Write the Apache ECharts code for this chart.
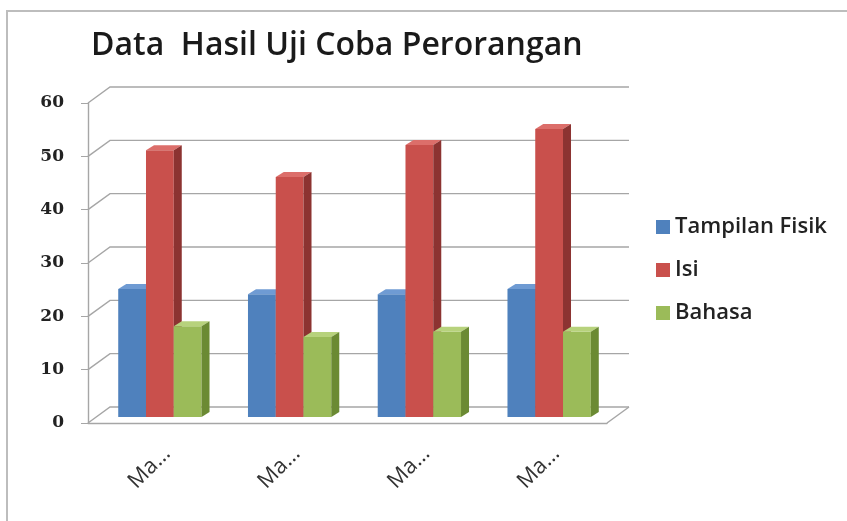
<!DOCTYPE html>
<html>
<head>
<meta charset="utf-8">
<script src="https://cdn.jsdelivr.net/npm/echarts@6/dist/echarts.min.js"></script>
<style>html,body{margin:0;padding:0;background:#fff}#c{width:847px;height:521px}</style>
</head>
<body>
<div id="c"></div>
<script>
const categories = ['Ma...', 'Ma...', 'Ma...', 'Ma...'];
const seriesNames = ['Tampilan Fisik', 'Isi', 'Bahasa'];
const tampilanFisik = [24, 23, 23, 24];
const isi = [50, 45, 51, 54];
const bahasa = [17, 15, 16, 16];
const yTicks = [0, 10, 20, 30, 40, 50, 60];

const palettes = [
  {front: '#4F81BD', top: '#6f9bd3', side: '#375f92'},
  {front: '#C9504C', top: '#dc6e6a', side: '#8c3331'},
  {front: '#9BBB59', top: '#b7d27c', side: '#6b8a33'}
];
const WALL_DX = 22, WALL_DY = -16;
const BAR_DX = 7, BAR_DY = -6;
const DEPTH_X = 8, DEPTH_Y = -5;

function barRender(k) {
  return function (params, api) {
    const idx = api.value(0), v = api.value(1);
    const top = api.coord([idx, v]);
    const base = api.coord([idx, 0]);
    const band = api.size([1, 0])[0];
    const bw = band * 0.214;
    const x0 = top[0] + (k - 1) * bw - bw / 2 + BAR_DX;
    const x1 = x0 + bw;
    const yt = top[1] + BAR_DY;
    const yb = base[1] + BAR_DY;
    const p = palettes[k];
    return {
      type: 'group',
      children: [
        {type: 'rect', shape: {x: x0, y: yt, width: bw, height: yb - yt}, style: {fill: p.front}},
        {type: 'polygon', shape: {points: [[x0, yt], [x1, yt], [x1 + DEPTH_X, yt + DEPTH_Y], [x0 + DEPTH_X, yt + DEPTH_Y]]}, style: {fill: p.top}},
        {type: 'polygon', shape: {points: [[x1, yt], [x1 + DEPTH_X, yt + DEPTH_Y], [x1 + DEPTH_X, yb + DEPTH_Y], [x1, yb]]}, style: {fill: p.side}}
      ]
    };
  };
}

function gridRender(params, api) {
  const v = api.value(1);
  const first = api.coord([0, v]);
  const last = api.coord([categories.length - 1, v]);
  const band = api.size([1, 0])[0];
  const lx = first[0] - band / 2, rx = last[0] + band / 2, y = first[1];
  const children = [{
    type: 'polyline',
    shape: {points: [[lx, y], [lx + WALL_DX, y + WALL_DY], [rx + WALL_DX, y + WALL_DY]]},
    style: {stroke: '#a6a6a6', lineWidth: 1.4, fill: null}
  }];
  if (v === 0) {
    children.push({
      type: 'line',
      shape: {x1: rx, y1: y, x2: rx + WALL_DX, y2: y + WALL_DY},
      style: {stroke: '#a6a6a6', lineWidth: 1.4}
    });
  }
  return {type: 'group', children: children};
}

const valueSets = [tampilanFisik, isi, bahasa];
const series = [{
  type: 'custom',
  name: '_grid',
  silent: true,
  z: 1,
  renderItem: gridRender,
  data: yTicks.map(v => [0, v]),
  encode: {x: 0, y: 1}
}];
valueSets.forEach((vals, k) => {
  series.push({
    type: 'custom',
    name: seriesNames[k],
    z: 3 + k,
    itemStyle: {color: palettes[k].front},
    renderItem: barRender(k),
    data: vals.map((v, i) => [i, v]),
    encode: {x: 0, y: 1}
  });
});

const chart = echarts.init(document.getElementById('c'));
chart.setOption({
  backgroundColor: '#ffffff',
  animation: false,
  graphic: [{
    type: 'rect', shape: {x: 7, y: 11, width: 860, height: 540},
    style: {fill: null, stroke: '#bdbdbd', lineWidth: 2}, z: 0
  }],
  title: {
    text: 'Data  Hasil Uji Coba Perorangan',
    left: 86, top: 25,
    textStyle: {fontFamily: 'Open Sans', fontSize: 32, fontWeight: 600, color: '#1a1a1a'}
  },
  legend: {
    data: seriesNames,
    orient: 'vertical',
    left: 651, top: 211,
    icon: 'rect',
    itemWidth: 14, itemHeight: 14, itemGap: 21,
    textStyle: {fontFamily: 'Open Sans', fontSize: 22, fontWeight: 600, color: '#222'}
  },
  grid: {left: 88, right: 240, top: 103, bottom: 98},
  xAxis: {
    type: 'category',
    data: categories,
    axisLine: {lineStyle: {color: '#a6a6a6', width: 1.4}},
    axisTick: {length: 8, lineStyle: {color: '#a6a6a6', width: 1.4}},
    axisLabel: {interval: 0, rotate: 45, margin: 13, verticalAlign: 'top', lineHeight: 40,
      fontFamily: 'Open Sans', fontSize: 22, color: '#333'}
  },
  yAxis: {
    type: 'value', min: 0, max: 60, interval: 10,
    axisLine: {show: true, lineStyle: {color: '#a6a6a6', width: 1.4}},
    axisTick: {show: true, length: 7, lineStyle: {color: '#a6a6a6'}},
    splitLine: {show: false},
    axisLabel: {margin: 24, fontFamily: 'DejaVu Serif', fontSize: 17, fontWeight: 700, color: '#222'}
  },
  series: series
});
</script>
</body>
</html>
